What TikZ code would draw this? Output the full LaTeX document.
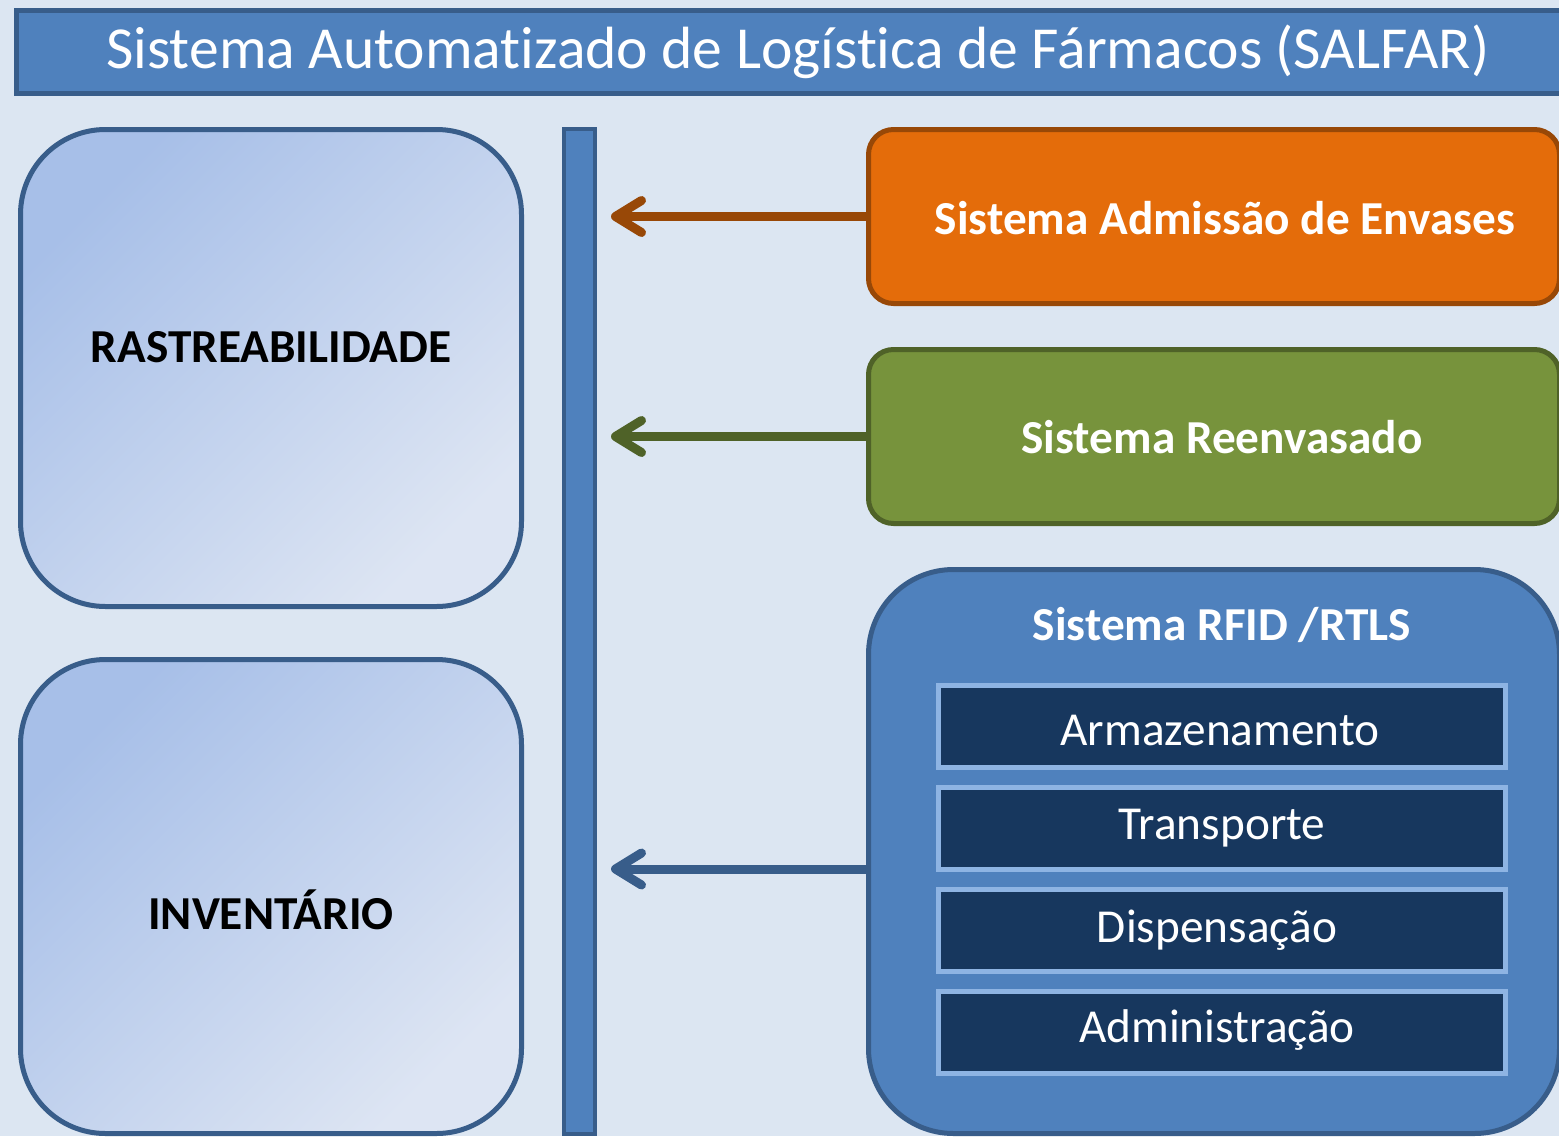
\documentclass[tikz,border=0pt]{standalone}
\usepackage{fontspec}
\setmainfont[Ligatures=NoCommon]{Carlito}
\usetikzlibrary{arrows.meta}
\definecolor{bg}{HTML}{DCE6F2}
\definecolor{midblue}{HTML}{4F81BD}
\definecolor{darkblueline}{HTML}{385D8A}
\definecolor{navy}{HTML}{17375E}
\definecolor{paleline}{HTML}{8EB4E3}
\definecolor{orangefill}{HTML}{E46C0A}
\definecolor{orangeline}{HTML}{984807}
\definecolor{greenfill}{HTML}{77933C}
\definecolor{greenline}{HTML}{4F6228}
\definecolor{gradA}{HTML}{A7BFE8}
\definecolor{gradB}{HTML}{DDE5F3}
\begin{document}
\begin{tikzpicture}[x=1pt,y=-1pt,
  every node/.style={inner sep=0pt, outer sep=0pt},
  titlebox/.style={draw=darkblueline, fill=midblue, line width=5pt, rectangle, text=white, font=\fontsize{59.6}{62}\selectfont},
  sidebox/.style={draw=darkblueline, line width=5pt, rectangle, rounded corners=85pt, top color=gradA, bottom color=gradB, shading angle=45},
  sidelabel/.style={text=black, font=\bfseries\fontsize{47.3}{49}\selectfont},
  barbox/.style={draw=darkblueline, fill=midblue, line width=4pt, rectangle},
  sysbox/.style={line width=5pt, rectangle, rounded corners=25pt},
  syslabel/.style={text=white, font=\bfseries\fontsize{47.3}{49}\selectfont},
  rfidbox/.style={draw=darkblueline, fill=midblue, line width=5pt, rectangle, rounded corners=85pt},
  subbox/.style={draw=paleline, fill=navy, line width=5pt, rectangle, minimum width=567pt, minimum height=82pt},
  sublabel/.style={text=white, font=\fontsize{47.3}{49}\selectfont},
  arr/.style={line width=9pt, -{Straight Barb[length=26pt, width=32pt, line cap=round, line join=round]}}
]
\useasboundingbox (0,0) rectangle (1559,1136);
\clip (0,0) rectangle (1559,1136);
\fill[bg] (0,0) rectangle (1559,1136);

% title bar
\node[titlebox, minimum width=1563pt, minimum height=83pt] (title) at (798,52) {Sistema Automatizado de Logística de Fármacos (SALFAR)};

% left boxes
\node[sidebox, minimum width=501pt, minimum height=477pt] (rast) at (271,368) {};
\node[sidelabel] (rastlbl) at (271,347) {RASTREABILIDADE};
\node[sidebox, minimum width=501pt, minimum height=474pt] (inv) at (271,896.5) {};
\node[sidelabel] (invlbl) at (271,910) {INVENTÁRIO};

% vertical bar
\node[barbox, minimum width=31pt, minimum height=1005pt] (bar) at (579.5,631.5) {};

% right boxes
\node[sysbox, draw=orangeline, fill=orangefill, minimum width=691pt, minimum height=174pt] (adm) at (1214,216.5) {};
\node[syslabel] (admlbl) at (1225,218) {Sistema Admissão de Envases};
\node[sysbox, draw=greenline, fill=greenfill, minimum width=691pt, minimum height=174pt] (reenv) at (1214,436.5) {};
\node[syslabel] (reenvlbl) at (1222,437) {Sistema Reenvasado};
\node[rfidbox, minimum width=691pt, minimum height=564pt] (rfid) at (1214,851.5) {};
\node[syslabel] (rfidlbl) at (1222,625) {Sistema RFID /RTLS};

% sub boxes
\node[subbox] (s1) at (1222,726.5) {};
\node[sublabel] (s1lbl) at (1220,730) {Armazenamento};
\node[subbox] (s2) at (1222,828.5) {};
\node[sublabel] (s2lbl) at (1222,828) {Transporte};
\node[subbox] (s3) at (1222,930.5) {};
\node[sublabel] (s3lbl) at (1217,930) {Dispensação};
\node[subbox] (s4) at (1222,1032.5) {};
\node[sublabel] (s4lbl) at (1217,1030) {Administração};

% arrows
\coordinate (t1) at ([xshift=16pt]bar.east |- adm.west);
\coordinate (t2) at ([xshift=16pt]bar.east |- reenv.west);
\coordinate (r3) at ([yshift=-17.5pt]rfid.west);
\coordinate (t3) at ([xshift=16pt]bar.east |- r3);
\draw[arr, draw=orangeline] (adm.west) -- (t1);
\draw[arr, draw=greenline] (reenv.west) -- (t2);
\draw[arr, draw=darkblueline] (r3) -- (t3);
\end{tikzpicture}
\end{document}
